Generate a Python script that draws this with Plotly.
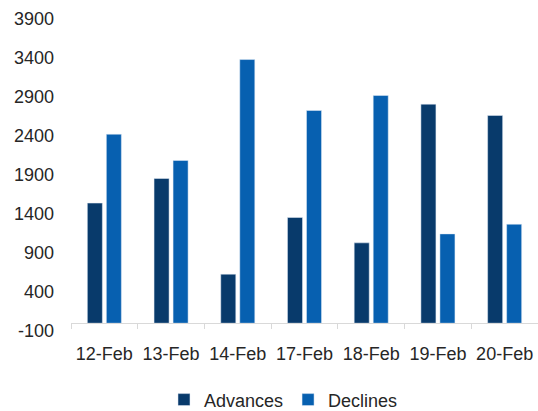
import plotly.graph_objects as go

dates = ["12-Feb", "13-Feb", "14-Feb", "17-Feb", "18-Feb", "19-Feb", "20-Feb"]
advances = [1540, 1855, 628, 1355, 1030, 2808, 2663]
declines = [2423, 2086, 3380, 2727, 2919, 1145, 1269]
y_ticks = [-100, 400, 900, 1400, 1900, 2400, 2900, 3400, 3900]
y_tick_text = [str(v) for v in y_ticks]

FONT = "Liberation Sans"
TXT = "#262626"

fig = go.Figure()
fig.add_trace(go.Bar(name="Advances", x=dates, y=advances, marker_color="#083A6B"))
fig.add_trace(go.Bar(name="Declines", x=dates, y=declines, marker_color="#0760B0"))

fig.update_layout(
    width=538, height=411,
    margin=dict(l=71, r=0, t=19, b=80, autoexpand=False),
    paper_bgcolor="white", plot_bgcolor="white",
    barmode="group", bargap=0.43, bargroupgap=0.21,
    font=dict(family=FONT, size=18, color=TXT),
    showlegend=True,
    legend=dict(orientation="h", x=0.455, xanchor="center", yref="container", y=0.027,
                yanchor="middle", font=dict(size=18, color=TXT), itemwidth=30),
    xaxis=dict(anchor="free", position=0.025, showline=True, linecolor="#D9D9D9", linewidth=1,
               ticks="outside", ticklen=5, tickcolor="#D9D9D9", tickson="boundaries",
               showgrid=False, automargin=False, ticklabelstandoff=14,
               tickfont=dict(size=18, color=TXT)),
    yaxis=dict(range=[-100, 3900], tickvals=y_ticks, ticktext=y_tick_text, showgrid=False,
               zeroline=False, showline=False, ticks="", ticklabelstandoff=16, automargin=False,
               tickfont=dict(size=18, color=TXT)),
)

fig.write_html("out.html")
